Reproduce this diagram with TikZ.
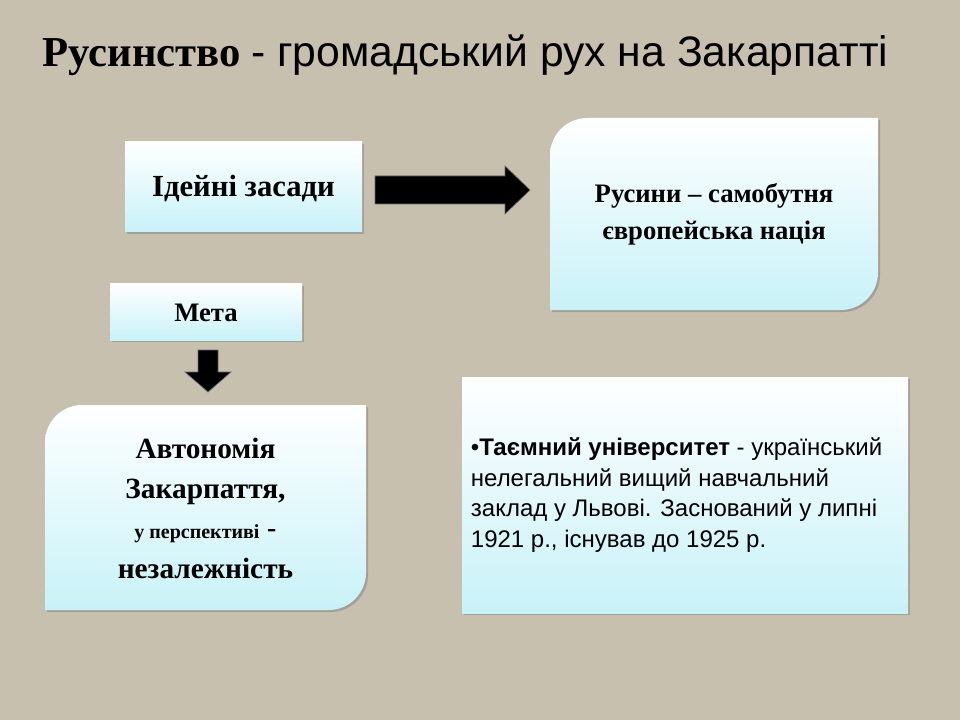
\documentclass[tikz,border=0pt]{standalone}
\usepackage{fontspec}
\setmainfont{Liberation Serif}
\newfontfamily\arialfont{Liberation Sans}
\usetikzlibrary{shadows}
\definecolor{bgpaper}{RGB}{200,192,174}
\definecolor{boxcyan}{RGB}{200,242,248}
\tikzset{every picture/.style={line width=0.75pt}}
\tikzset{
  panel/.style={top color=white, bottom color=boxcyan, draw=none,
    drop shadow={shadow xshift=1.5pt, shadow yshift=-1.5pt, fill=black!45, opacity=0.6}},
  paneltext/.style={font=\bfseries, align=center, text=black},
  blockarrow/.style={fill=black, draw=black!60, line width=0.5pt}
}
\begin{document}
\begin{tikzpicture}[x=0.75pt,y=0.75pt,yscale=-1,xscale=1]
\fill[bgpaper] (0,0) rectangle (960,720);

%Title
\node (title) [anchor=west, inner sep=0pt] at (42,55) {\fontsize{32}{36}\selectfont\bfseries Русинство\ \arialfont\mdseries - громадський рух на Закарпатті};

%Panels
\path[panel] (125,142) rectangle (362,232);
\path[panel] (550,310) [rounded corners=28] -- (550,118) [sharp corners] -- (878,118) [rounded corners=28] -- (878,310) [sharp corners] -- cycle;
\path[panel] (110,284) rectangle (302,340);
\path[panel] (45,610) [rounded corners=28] -- (45,405) [sharp corners] -- (366,405) [rounded corners=28] -- (366,610) [sharp corners] -- cycle;
\path[panel] (462,377) rectangle (908,613);

%Block arrows
\draw[blockarrow] (375,176) -- (505,176) -- (505,166) -- (530,190) -- (505,214) -- (505,204) -- (375,204) -- cycle;
\draw[blockarrow] (198,350) -- (218,350) -- (218,372) -- (231,372) -- (208,392) -- (185,372) -- (198,372) -- cycle;

% Text Node
\node (idea) [paneltext, font=\fontsize{23}{26}\selectfont\bfseries] at (243.5,189) {Ідейні засади};
% Text Node
\node (rusyny) [paneltext, font=\fontsize{20}{28}\selectfont\bfseries] at (714,214) {Русини -- самобутня\\європейська нація};
% Text Node
\node (meta) [paneltext, font=\fontsize{20}{22}\selectfont\bfseries] at (206,313) {Мета};
% Text Node
\node (avto) [paneltext, font=\fontsize{22}{30}\selectfont\bfseries] at (205.5,508) {Автономія\\Закарпаття,\\{\fontsize{15}{18}\selectfont у перспективі} {\arialfont\mdseries -}\\незалежність};
% Text Node
\node (univ) [anchor=west, align=left, font=\arialfont\fontsize{18}{23}\selectfont] at (466,495)
  {\textbullet\textbf{Таємний університет} - український\\нелегальний вищий навчальний\\заклад у Львові. Заснований у липні\\1921 р., існував до 1925 р.};
\end{tikzpicture}
\end{document}
